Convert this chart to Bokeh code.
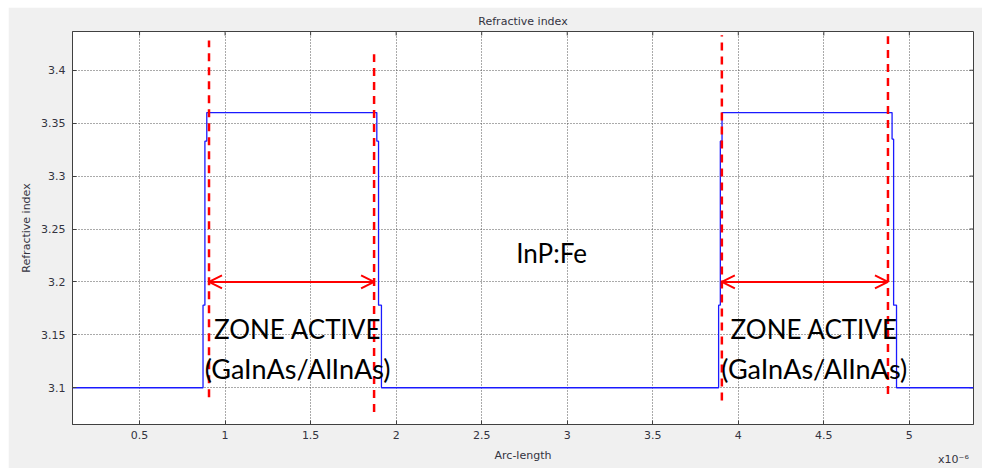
from bokeh.plotting import figure
from bokeh.models import Range1d, Label, Arrow, OpenHead, FixedTicker, LinearAxis
from bokeh.embed import file_html
from bokeh.resources import INLINE

# ---- data (x in units of 1e-6 m) ----
x_profile = [0.108, 0.871, 0.871, 0.882, 0.882, 0.893, 0.893, 1.887, 1.887, 1.897, 1.897, 1.914, 1.914,
             3.885, 3.885, 3.895, 3.895, 3.905, 3.905, 4.899, 4.899, 4.908, 4.908, 4.925, 4.925, 5.375]
n_profile = [3.1, 3.1, 3.178, 3.178, 3.333, 3.333, 3.36, 3.36, 3.333, 3.333, 3.178, 3.178, 3.1,
             3.1, 3.178, 3.178, 3.333, 3.333, 3.36, 3.36, 3.335, 3.335, 3.178, 3.178, 3.1, 3.1]

boundary_x = [0.906, 1.871, 3.904, 4.875]
boundary_top = [3.428, 3.415, 3.433, 3.432]
boundary_bottom = [3.091, 3.077, 3.088, 3.094]

zone_start = [0.906, 3.904]
zone_end = [1.871, 4.875]
zone_arrow_y = [3.2, 3.2]
zone_center = [1.424, 4.444]
zone_line1 = ["ZONE ACTIVE", "ZONE ACTIVE"]
zone_line2 = ["(GaInAs/AlInAs)", "(GaInAs/AlInAs)"]

x_ticks = [0.5, 1.0, 1.5, 2.0, 2.5, 3.0, 3.5, 4.0, 4.5, 5.0]
x_tick_labels = ["0.5", "1", "1.5", "2", "2.5", "3", "3.5", "4", "4.5", "5"]
y_ticks = [3.1, 3.15, 3.2, 3.25, 3.3, 3.35, 3.4]
y_tick_labels = ["3.1", "3.15", "3.2", "3.25", "3.3", "3.35", "3.4"]
x_multiplier_pos = [5.258]
x_multiplier_text = ["x10\u207b\u2076"]

X_MIN, X_MAX = 0.108, 5.375
Y_MIN, Y_MAX = 3.0653, 3.4366

AXIS_FONT = "DejaVu Sans"
NOTE_FONT = "Lato"
AXIS_COLOR = "#404040"
LABEL_COLOR = "#333340"

FRAME_W, FRAME_H = 901, 393

p = figure(width=974, height=461,
           x_range=Range1d(X_MIN, X_MAX), y_range=Range1d(Y_MIN, Y_MAX),
           output_backend="svg", toolbar_location=None,
           min_border_left=64, min_border_right=9, min_border_top=24, min_border_bottom=44,
           background_fill_color="white", border_fill_color="#f0f0f0")
p.margin = (7, 0, 0, 8)

p.title.text = "Refractive index"
p.title.align = "center"
p.title.text_font = AXIS_FONT
p.title.text_font_size = "11px"
p.title.text_font_style = "normal"
p.title.text_color = LABEL_COLOR
p.title.standoff = 8

p.xaxis.ticker = FixedTicker(ticks=x_ticks)
p.yaxis.ticker = FixedTicker(ticks=y_ticks)

for ax in list(p.xaxis) + list(p.yaxis):
    ax.major_tick_in = 4
    ax.major_tick_out = 0
    ax.minor_tick_in = 0
    ax.minor_tick_out = 0
    ax.axis_line_color = AXIS_COLOR
    ax.major_tick_line_color = AXIS_COLOR
    ax.major_label_text_font = AXIS_FONT
    ax.major_label_text_font_size = "11px"
    ax.major_label_text_color = LABEL_COLOR
    ax.axis_label_text_font = AXIS_FONT
    ax.axis_label_text_font_size = "11px"
    ax.axis_label_text_font_style = "normal"
    ax.axis_label_text_color = LABEL_COLOR

bottom_axis = p.below[0]
left_axis = p.left[0]
bottom_axis.major_label_overrides = dict(zip(x_ticks, x_tick_labels))
left_axis.major_label_overrides = dict(zip(y_ticks, y_tick_labels))
bottom_axis.axis_label = "Arc-length"
left_axis.axis_label = "Refractive index"
bottom_axis.major_label_standoff = 6
bottom_axis.axis_label_standoff = 7
left_axis.major_label_standoff = 7
left_axis.axis_label_standoff = 5

# multiplier "x10^-6" drawn as the only tick label of a second, line-less bottom axis
mult_axis = LinearAxis(ticker=FixedTicker(ticks=x_multiplier_pos),
                       major_label_overrides=dict(zip(x_multiplier_pos, x_multiplier_text)),
                       axis_line_color=None, major_tick_line_color=None,
                       major_tick_in=0, major_tick_out=0, minor_tick_in=0, minor_tick_out=0,
                       major_label_standoff=-12,
                       major_label_text_font=AXIS_FONT, major_label_text_font_size="11px",
                       major_label_text_color=LABEL_COLOR)
p.add_layout(mult_axis, "below")

p.outline_line_color = AXIS_COLOR
p.xgrid.ticker = FixedTicker(ticks=x_ticks)
p.ygrid.ticker = FixedTicker(ticks=y_ticks)
for g in (p.xgrid, p.ygrid):
    g.grid_line_color = "#555555"
    g.grid_line_dash = "1 2"
    g.grid_line_width = 1

# inward ticks on the top and right edges of the box (4 px long)
dy = 4 * (Y_MAX - Y_MIN) / FRAME_H
dx = 4 * (X_MAX - X_MIN) / FRAME_W
p.segment(x0=x_ticks, y0=[Y_MAX] * len(x_ticks), x1=x_ticks, y1=[Y_MAX - dy] * len(x_ticks),
          line_color=AXIS_COLOR, line_width=1)
p.segment(x0=[X_MAX] * len(y_ticks), y0=y_ticks, x1=[X_MAX - dx] * len(y_ticks), y1=y_ticks,
          line_color=AXIS_COLOR, line_width=1)

# refractive index profile
p.line(x_profile, n_profile, line_color="#1a1aff", line_width=1.3)

# red dashed zone boundaries
p.segment(x0=boundary_x, y0=boundary_bottom, x1=boundary_x, y1=boundary_top,
          line_color="#ff0000", line_width=2.5, line_dash="8 6")

# double arrows
for xs, xe, ya in zip(zone_start, zone_end, zone_arrow_y):
    p.add_layout(Arrow(x_start=xs, y_start=ya, x_end=xe, y_end=ya,
                       line_color="#ff0000", line_width=2,
                       start=OpenHead(size=13, line_color="#ff0000", line_width=2),
                       end=OpenHead(size=13, line_color="#ff0000", line_width=2)))

# zone texts
for xc, t1, t2 in zip(zone_center, zone_line1, zone_line2):
    p.add_layout(Label(x=xc, y=3.1557, text=t1, text_align="center", text_baseline="alphabetic",
                       text_font=NOTE_FONT, text_font_size="26px", text_color="black"))
    p.add_layout(Label(x=xc, y=3.1179, text=t2, text_align="center", text_baseline="alphabetic",
                       text_font=NOTE_FONT, text_font_size="27px", text_color="black"))

p.add_layout(Label(x=2.909, y=3.2271, text="InP:Fe", text_align="center", text_baseline="alphabetic",
                   text_font=NOTE_FONT, text_font_size="26px", text_color="black"))

open("out.html", "w").write(file_html(p, INLINE))
